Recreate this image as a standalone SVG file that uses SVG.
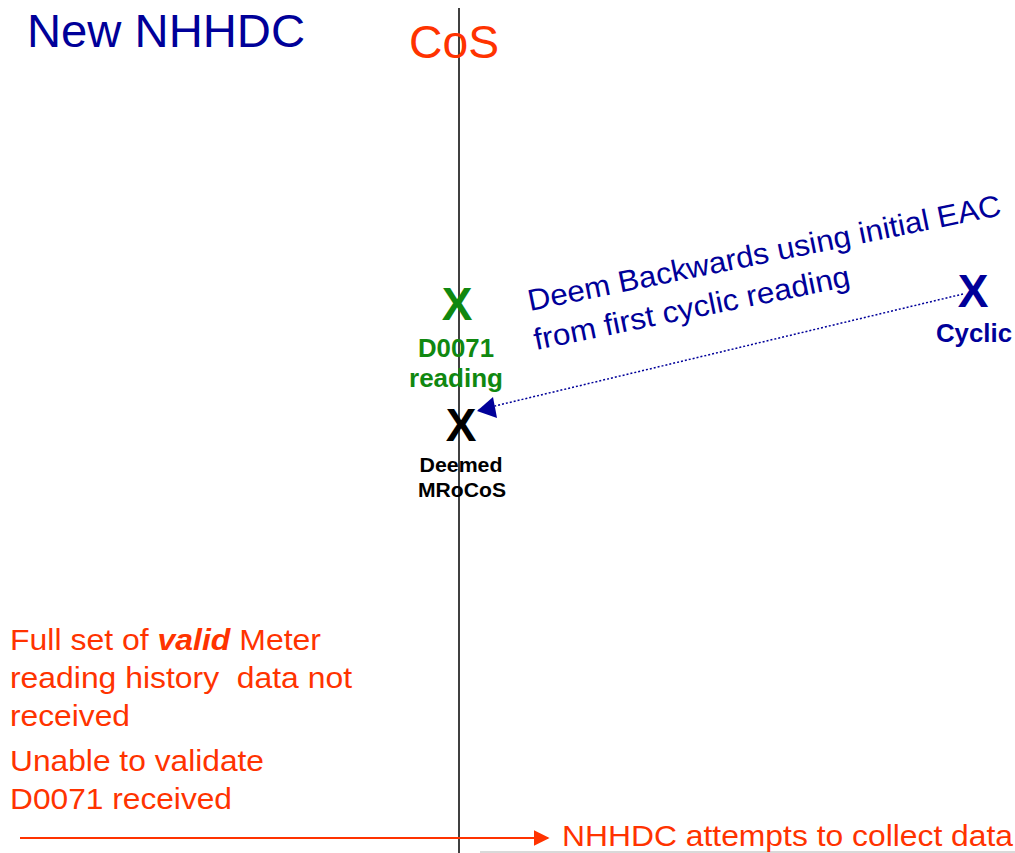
<svg xmlns="http://www.w3.org/2000/svg" width="1015" height="853" viewBox="0 0 1015 853">
<style>
text{font-family:"Liberation Sans",Arial,sans-serif}
.red{fill:#FF3300;font-size:30px}
.blue{fill:#000099}
.bx{font-weight:bold;font-size:46px;text-anchor:middle}
.lb{font-weight:bold;text-anchor:middle}
</style>
<defs>
<marker id="ar" viewBox="0 0 10 10" refX="9" refY="5" markerWidth="16" markerHeight="16" markerUnits="userSpaceOnUse" orient="auto">
<path d="M0,0L10,5L0,10z" fill="#FF3300"/>
</marker>
</defs>
<rect width="1015" height="853" fill="#fff"/>
<g id="connectors">
<line x1="459" y1="8" x2="459" y2="853" stroke="#000" stroke-width="1.5"/>
<line x1="963" y1="294" x2="478" y2="410" stroke="#000099" stroke-width="1.5" stroke-dasharray="2,2"/>
<path d="M477,411L493,397L497,418z" fill="#000099"/>
<line x1="20" y1="838" x2="548" y2="838" stroke="#FF3300" stroke-width="2" marker-end="url(#ar)"/>
<line x1="480" y1="852" x2="1015" y2="852" stroke="#ccc" stroke-width="1.5"/>
</g>
<g id="title"><text x="27" y="47" class="blue" font-size="46" textLength="278" lengthAdjust="spacingAndGlyphs">New NHHDC</text></g>
<g id="cos"><text x="409" y="58" fill="#FF3300" font-size="46" textLength="90" lengthAdjust="spacingAndGlyphs">CoS</text></g>
<g id="d0071">
<text x="457" y="320" class="bx" fill="#108810">X</text>
<text x="456" y="357" class="lb" fill="#108810" font-size="25" textLength="76" lengthAdjust="spacingAndGlyphs">D0071</text>
<text x="456" y="387" class="lb" fill="#108810" font-size="25" textLength="94" lengthAdjust="spacingAndGlyphs">reading</text>
</g>
<g id="deemed">
<text x="461" y="441" class="bx" fill="#000">X</text>
<text x="461" y="472" class="lb" fill="#000" font-size="20" textLength="83" lengthAdjust="spacingAndGlyphs">Deemed</text>
<text x="462" y="497" class="lb" fill="#000" font-size="20" textLength="88" lengthAdjust="spacingAndGlyphs">MRoCoS</text>
</g>
<g id="cyclic">
<text x="973" y="307" class="bx blue">X</text>
<text x="974" y="342" class="lb blue" font-size="25" textLength="76" lengthAdjust="spacingAndGlyphs">Cyclic</text>
</g>
<g id="deemnote">
<text transform="translate(530,311) rotate(-11.5)" class="blue" font-size="30" textLength="482" lengthAdjust="spacingAndGlyphs">Deem Backwards using initial EAC</text>
<text transform="translate(536,350) rotate(-11.5)" class="blue" font-size="30" textLength="322" lengthAdjust="spacingAndGlyphs">from first cyclic reading</text>
</g>
<g id="notes">
<text x="10" y="650" class="red" textLength="311" lengthAdjust="spacingAndGlyphs">Full set of <tspan font-weight="bold" font-style="italic">valid</tspan> Meter</text>
<text x="10" y="688" class="red" xml:space="preserve" textLength="342" lengthAdjust="spacingAndGlyphs">reading history  data not</text>
<text x="10" y="726" class="red" textLength="120" lengthAdjust="spacingAndGlyphs">received</text>
<text x="10" y="771" class="red" textLength="254" lengthAdjust="spacingAndGlyphs">Unable to validate</text>
<text x="10" y="809" class="red" textLength="222" lengthAdjust="spacingAndGlyphs">D0071 received</text>
<text x="562" y="846" class="red" textLength="451" lengthAdjust="spacingAndGlyphs">NHHDC attempts to collect data</text>
</g>
</svg>
